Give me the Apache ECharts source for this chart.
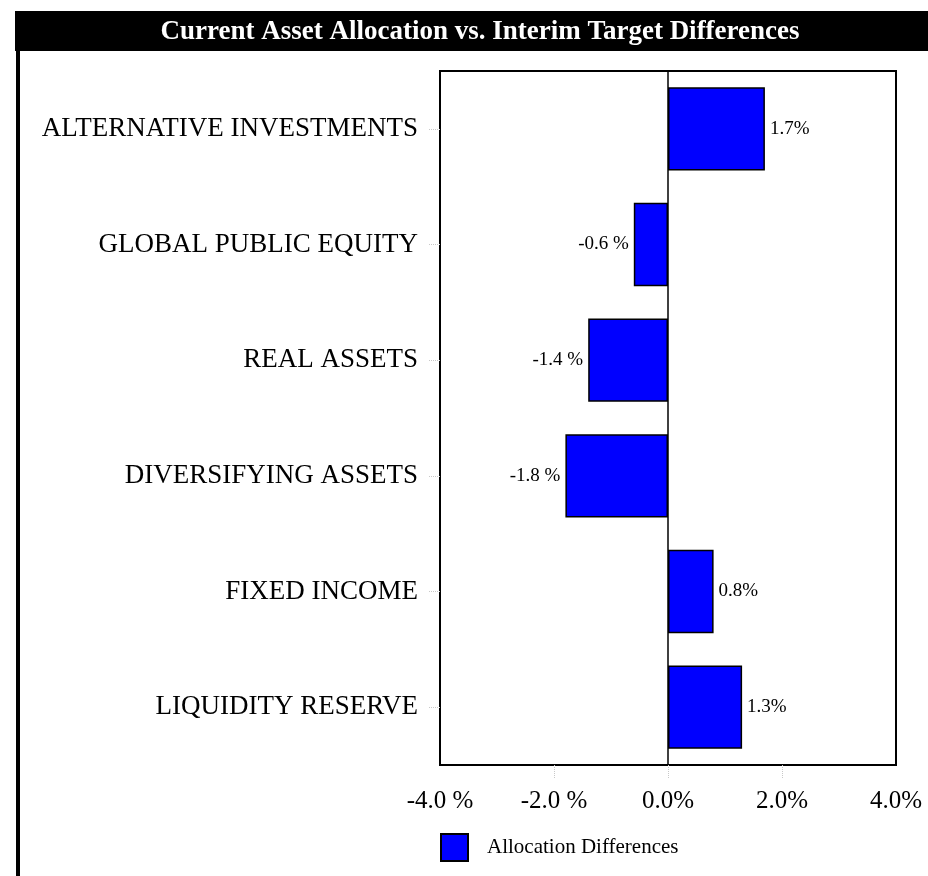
<!DOCTYPE html>
<html>
<head>
<meta charset="utf-8">
<script src="https://cdn.jsdelivr.net/npm/echarts@6/dist/echarts.min.js"></script>
<style>
  html, body { margin: 0; padding: 0; background: #fff; }
  #chart { width: 928px; height: 876px; }
</style>
</head>
<body>
<div id="chart"></div>
<script>
  // asset classes, top to bottom
  var categories = ['ALTERNATIVE INVESTMENTS', 'GLOBAL PUBLIC EQUITY', 'REAL ASSETS',
    'DIVERSIFYING ASSETS', 'FIXED INCOME', 'LIQUIDITY RESERVE'];
  // current allocation minus interim target, in %
  var differences = [1.7, -0.6, -1.4, -1.8, 0.8, 1.3];
  // x ticks that get a little dotted mark below the frame
  var innerTicks = [-2, 0, 2];
  var seriesName = 'Allocation Differences';
  var titleText = 'Current Asset Allocation vs. Interim Target Differences';

  var serif = '"Liberation Serif", "Times New Roman", serif';

  // negative values get a space before the % sign, like the original
  function pct(v) {
    return v < 0 ? v.toFixed(1) + ' %' : v.toFixed(1) + '%';
  }

  var barData = differences.map(function (v) {
    return {
      value: v,
      label: { position: v < 0 ? 'left' : 'right' }
    };
  });

  var tickStyle = { color: '#c8c8c8', type: 'dotted', width: 1 };

  var chart = echarts.init(document.getElementById('chart'));
  chart.setOption({
    animation: false,
    backgroundColor: '#fff',
    graphic: [
      // black title band
      { type: 'rect', shape: { x: 15, y: 11, width: 913, height: 40 }, style: { fill: '#000' }, silent: true },
      // left black rule
      { type: 'rect', shape: { x: 16, y: 50, width: 4, height: 826 }, style: { fill: '#000' }, silent: true },
      {
        type: 'text', x: 480, y: 32, silent: true,
        style: {
          text: titleText, fill: '#fff', font: 'bold 27px ' + serif,
          textAlign: 'center', textVerticalAlign: 'middle'
        }
      }
    ],
    grid: {
      left: 440, right: 32, top: 71, bottom: 111,
      show: true, borderColor: '#000', borderWidth: 2, backgroundColor: '#fff'
    },
    legend: {
      left: 440, top: 833, padding: 0,
      itemWidth: 27, itemHeight: 27,
      icon: 'rect',
      textStyle: { fontFamily: serif, fontSize: 21, color: '#000', padding: [2, 0, 0, 14] },
      data: [seriesName]
    },
    xAxis: {
      type: 'value',
      min: -4, max: 4, interval: 2,
      axisLine: { show: false },
      splitLine: { show: false },
      axisTick: { show: true, length: 13, customValues: innerTicks, lineStyle: tickStyle },
      axisLabel: {
        margin: 24, fontFamily: serif, fontSize: 25, color: '#000',
        formatter: function (v) { return pct(v); }
      }
    },
    yAxis: {
      type: 'category',
      inverse: true,
      data: categories,
      axisLine: { show: false, onZero: false },
      axisTick: { show: true, alignWithLabel: true, length: 12, lineStyle: tickStyle },
      axisLabel: { margin: 22, fontFamily: serif, fontSize: 27, color: '#000' }
    },
    series: [{
      name: seriesName,
      type: 'bar',
      data: barData,
      barCategoryGap: '28%',
      itemStyle: { color: '#0000ff', borderColor: '#000', borderWidth: 1.5 },
      label: {
        show: true, distance: 5,
        fontFamily: serif, fontSize: 19, color: '#000',
        formatter: function (p) { return pct(p.value); }
      },
      markLine: {
        silent: true, symbol: 'none', label: { show: false },
        lineStyle: { color: '#000', width: 1.5, type: 'solid' },
        data: [{ xAxis: 0 }]
      }
    }]
  });
</script>
</body>
</html>
